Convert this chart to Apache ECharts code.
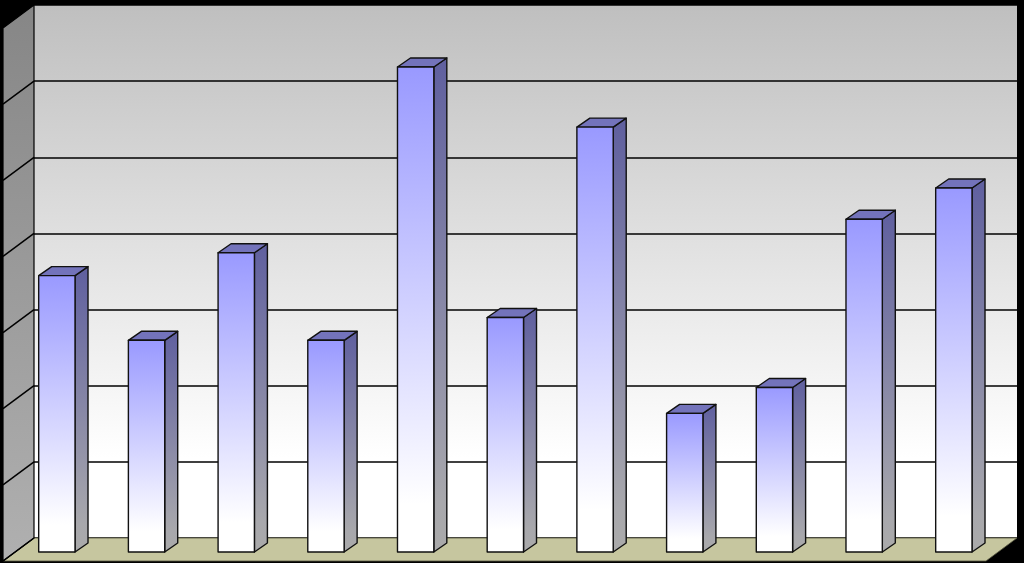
<!DOCTYPE html>
<html><head><meta charset="utf-8">
<style>html,body{margin:0;padding:0;background:#000}#c{width:1024px;height:563px}</style>
<script src="https://cdn.jsdelivr.net/npm/echarts@6/dist/echarts.min.js"></script>
</head><body><div id="c"></div>
<script>
var categories = ['1','2','3','4','5','6','7','8','9','10','11'];
var values = [3.63, 2.78, 3.93, 2.78, 6.37, 3.08, 5.58, 1.82, 2.16, 4.37, 4.78];
var gridValues = [0, 1, 2, 3, 4, 5, 6, 7];
var WALL_DX = -31, WALL_DY = 23, BAR_DX = 13, BAR_DY = -9;
var LG = function (stops) { return new echarts.graphic.LinearGradient(0, 0, 0, 1, stops); };

function renderRoom(params, api) {
  var cs = params.coordSys, l = cs.x, r = cs.x + cs.width, t = cs.y, b = cs.y + cs.height;
  var children = [
    { type: 'polygon', shape: { points: [[l, b], [r, b], [r + WALL_DX, b + WALL_DY], [l + WALL_DX, b + WALL_DY]] },
      style: { fill: '#c6c69f', stroke: '#55553f', lineWidth: 0.8 } },
    { type: 'polygon', shape: { points: [[l, t], [l, b], [l + WALL_DX, b + WALL_DY], [l + WALL_DX, t + WALL_DY]] },
      style: { fill: LG([{ offset: 0, color: '#868686' }, { offset: 1, color: '#b0b0b0' }]), stroke: '#000', lineWidth: 1.2 } }
  ];
  gridValues.slice(0, -1).forEach(function (v) {
    var y = api.coord([0, v])[1];
    children.push({ type: 'line', shape: { x1: l, y1: y, x2: l + WALL_DX, y2: y + WALL_DY }, style: { stroke: '#000', lineWidth: 1.5 } });
  });
  return { type: 'group', children: children };
}

function renderBar(params, api) {
  var top = api.coord([api.value(0), api.value(1)]);
  var base = api.coord([api.value(0), 0]);
  var w = api.size([1, 0])[0] * 0.405;
  var xl = top[0] - w / 2, xr = top[0] + w / 2, yt = top[1], yb = base[1];
  var edge = { stroke: '#111', lineWidth: 1.4, lineJoin: 'round' };
  function st(fill) { return Object.assign({ fill: fill }, edge); }
  return { type: 'group', children: [
    { type: 'polygon', shape: { points: [[xr, yt], [xr + BAR_DX, yt + BAR_DY], [xr + BAR_DX, yb + BAR_DY], [xr, yb]] },
      style: st(LG([{ offset: 0, color: '#5f5f9f' }, { offset: 0.9, color: '#a8a8ac' }, { offset: 1, color: '#aaaaaa' }])) },
    { type: 'polygon', shape: { points: [[xl, yt], [xr, yt], [xr + BAR_DX, yt + BAR_DY], [xl + BAR_DX, yt + BAR_DY]] },
      style: st('#7373bb') },
    { type: 'rect', shape: { x: xl, y: yt, width: xr - xl, height: yb - yt },
      style: st(LG([{ offset: 0, color: '#9999ff' }, { offset: 0.9, color: '#ffffff' }, { offset: 1, color: '#ffffff' }])) }
  ] };
}

var chart = echarts.init(document.getElementById('c'), null, { renderer: 'canvas' });
chart.setOption({
  animation: false,
  backgroundColor: '#000',
  grid: [
    { left: 34, right: 7, top: 5, bottom: 25, show: true, borderWidth: 0,
      backgroundColor: LG([{ offset: 0, color: '#bfbfbf' }, { offset: 0.85, color: '#ffffff' }, { offset: 1, color: '#ffffff' }]) },
    { left: 12, width: 986.7, top: 19, bottom: 11 }
  ],
  xAxis: [
    { type: 'category', gridIndex: 0, data: categories, axisLine: { show: false }, axisTick: { show: false }, axisLabel: { show: false } },
    { type: 'category', gridIndex: 1, data: categories, axisLine: { show: false }, axisTick: { show: false }, axisLabel: { show: false } }
  ],
  yAxis: [
    { type: 'value', gridIndex: 0, min: 0, max: 7, interval: 1, axisLine: { show: false }, axisLabel: { show: false },
      axisTick: { show: false }, splitLine: { show: true, lineStyle: { color: '#000', width: 1.5 } } },
    { type: 'value', gridIndex: 1, min: 0, max: 7, interval: 1, axisLine: { show: false }, axisLabel: { show: false },
      axisTick: { show: false }, splitLine: { show: false } }
  ],
  series: [
    { type: 'custom', xAxisIndex: 0, yAxisIndex: 0, z: 1, silent: true, clip: false, data: [[0, 0]], renderItem: renderRoom },
    { type: 'custom', xAxisIndex: 1, yAxisIndex: 1, z: 3, silent: true, clip: false,
      data: values.map(function (v, i) { return [i, v]; }), encode: { x: 0, y: 1 }, renderItem: renderBar }
  ]
});
</script></body></html>
